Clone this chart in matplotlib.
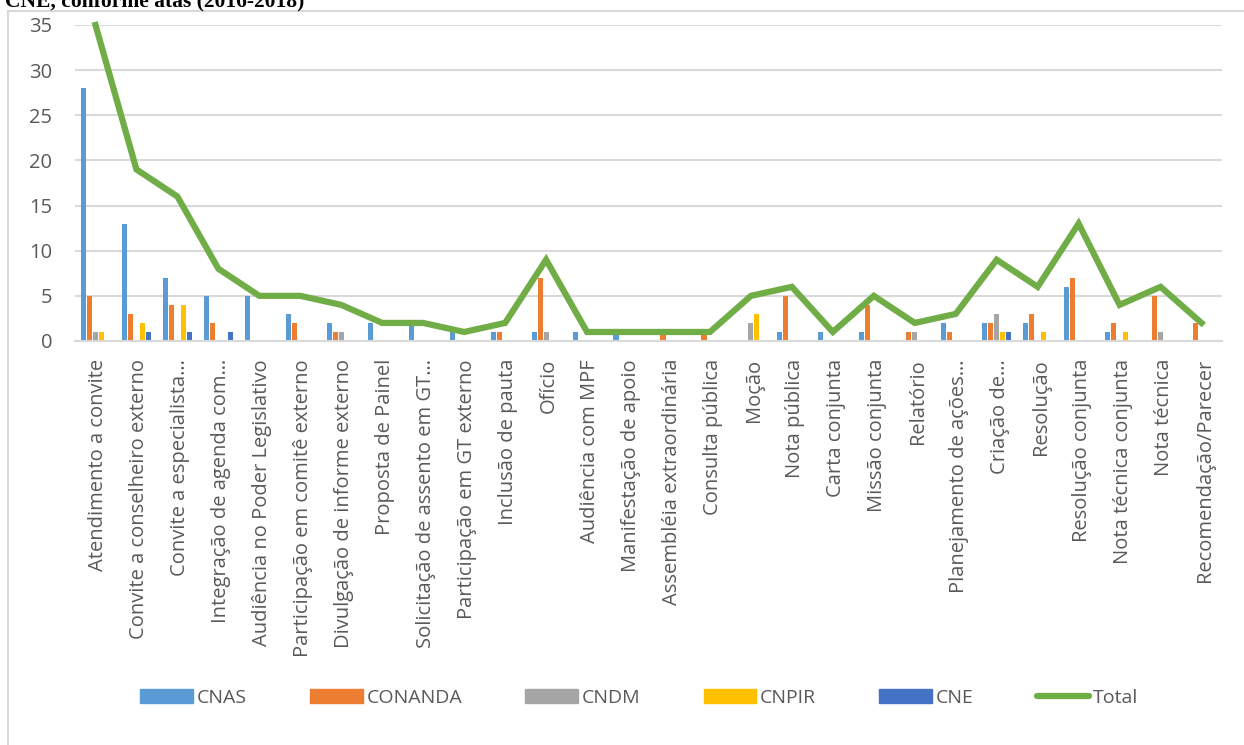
import numpy as np
import matplotlib.pyplot as plt
import matplotlib.transforms as mtransforms
from matplotlib.lines import Line2D

plt.rcParams['font.family'] = ['Open Sans', 'DejaVu Sans']

categories = [
    "Atendimento a convite", "Convite a conselheiro externo", "Convite a especialista…",
    "Integração de agenda com…", "Audiência no Poder Legislativo",
    "Participação em comitê externo", "Divulgação de informe externo", "Proposta de Painel",
    "Solicitação de assento em GT…", "Participação em GT externo", "Inclusão de pauta",
    "Ofício", "Audiência com MPF", "Manifestação de apoio", "Assembléia extraordinária",
    "Consulta pública", "Moção", "Nota pública", "Carta conjunta", "Missão conjunta",
    "Relatório", "Planejamento de ações…", "Criação de…", "Resolução",
    "Resolução conjunta", "Nota técnica conjunta", "Nota técnica", "Recomendação/Parecer",
]
cnas    = [28, 13, 7, 5, 5, 3, 2, 2, 2, 1, 1, 1, 1, 1, 0, 0, 0, 1, 1, 1, 0, 2, 2, 2, 6, 1, 0, 0]
conanda = [5, 3, 4, 2, 0, 2, 1, 0, 0, 0, 1, 7, 0, 0, 1, 1, 0, 5, 0, 4, 1, 1, 2, 3, 7, 2, 5, 2]
cndm    = [1, 0, 0, 0, 0, 0, 1, 0, 0, 0, 0, 1, 0, 0, 0, 0, 2, 0, 0, 0, 1, 0, 3, 0, 0, 0, 1, 0]
cnpir   = [1, 2, 4, 0, 0, 0, 0, 0, 0, 0, 0, 0, 0, 0, 0, 0, 3, 0, 0, 0, 0, 0, 1, 1, 0, 1, 0, 0]
cne     = [0, 1, 1, 1, 0, 0, 0, 0, 0, 0, 0, 0, 0, 0, 0, 0, 0, 0, 0, 0, 0, 0, 1, 0, 0, 0, 0, 0]
total   = [35, 19, 16, 8, 5, 5, 4, 2, 2, 1, 2, 9, 1, 1, 1, 1, 5, 6, 1, 5, 2, 3, 9, 6, 13, 4, 6, 2]

series = [("CNAS", cnas, "#5B9BD5"), ("CONANDA", conanda, "#ED7D31"),
          ("CNDM", cndm, "#A5A5A5"), ("CNPIR", cnpir, "#FFC000"), ("CNE", cne, "#4472C4")]

fig = plt.figure(figsize=(12.44, 7.45), dpi=100)
ax = fig.add_axes([75/1244, 1-341/745, 1147/1244, 316/745])

x = np.arange(len(categories))
w = 0.146
for i, (name, vals, col) in enumerate(series):
    ax.bar(x + (i - 2) * w, vals, w * 0.86, color=col, label=name, zorder=2)
ax.plot(x, total, color="#70AD47", lw=4.5, label="Total", zorder=3,
        solid_joinstyle='miter', clip_on=False)

ax.set_xlim(-0.5, len(categories) - 0.5)
ax.set_ylim(0, 35)
ax.set_yticks(range(0, 36, 5))
ax.yaxis.grid(True, color="#D9D9D9", lw=1.5, zorder=0)
ax.set_axisbelow(True)
for s in ["top", "right", "left"]:
    ax.spines[s].set_visible(False)
ax.spines["bottom"].set_color("#D9D9D9")
ax.spines["bottom"].set_linewidth(1.5)
ax.tick_params(axis='both', length=0, colors="#595959")
ax.tick_params(axis='y', labelsize=14.5, pad=16.5)
ax.set_xticks(x)
ax.set_xticklabels(categories, rotation=90, fontsize=14.5, color="#595959")
ax.tick_params(axis='x', pad=13)
shift = mtransforms.ScaledTranslation(3/100, 0, fig.dpi_scale_trans)
for lab in ax.get_xticklabels():
    lab.set_transform(lab.get_transform() + shift)

# legend
handles = [plt.Rectangle((0, 0), 1, 1, color=c) for _, _, c in series]
handles.append(Line2D([0], [0], color="#70AD47", lw=4.5, solid_capstyle='round'))
labels = [s[0] for s in series] + ["Total"]
fig.legend(handles, labels, loc="center", bbox_to_anchor=(0.514, 1-698/745), ncol=6,
           frameon=False, fontsize=14, labelcolor="#595959", handlelength=2.7,
           handleheight=0.75, handletextpad=0.2, columnspacing=3.25)

# chart border and clipped title
fig.add_artist(Line2D([8/1244, 8/1244], [0, 1-11/745], color="#D9D9D9", lw=1.5))
fig.add_artist(Line2D([8/1244, 1], [1-11/745, 1-11/745], color="#D9D9D9", lw=1.5))
fig.text(5/1244, 1-6/745, "CNE, conforme atas (2016-2018)", family="Liberation Serif",
         weight="bold", fontsize=15.5, va="baseline", ha="left")

fig.savefig("out.png", dpi=100)
